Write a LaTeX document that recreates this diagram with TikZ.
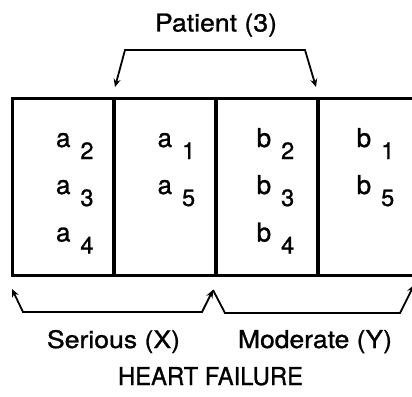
\documentclass[tikz,border=0pt]{standalone}
\usepackage{fontspec}
\usepackage{graphicx}
\setmainfont{TeX Gyre Heros}[FakeBold=1]
\usetikzlibrary{arrows.meta}
\newcommand{\ent}[2]{{\fontsize{26}{30}\selectfont #1}\hspace{10pt}\raisebox{-12pt}{\fontsize{23.5}{28}\selectfont #2}}
\newcommand{\lab}[2]{\resizebox{#1}{18pt}{#2}}
\tikzset{
  boxline/.style={line width=3pt, line cap=rect},
  divline/.style={line width=3.6pt},
  brk/.style={line width=1.8pt, line join=miter},
  tip/.style={-{Stealth[length=8pt,width=7pt]}},
  lbl/.style={inner sep=0pt, anchor=base},
  cell/.style={inner sep=0pt, anchor=base west},
}
\begin{document}
\begin{tikzpicture}[x=1pt,y=-1pt]
\useasboundingbox (0,0) rectangle (412,396);
% boxes
\coordinate (tl) at (12,98);
\coordinate (bl) at (12,275);
\coordinate (tr) at (420,98);
\coordinate (br) at (420,275);
\draw[boxline] (tr) -- (tl) -- (bl) -- (br);
\foreach \x/\n in {114/d1,216/d2,318/d3}{
  \coordinate (\n t) at (\x,98);
  \coordinate (\n b) at (\x,275);
  \draw[divline] (\n t) -- (\n b);
}
% cells
\node[cell] (a2) at (55.8,147) {\ent{a}{2}};
\node[cell] (a3) at (55.8,194) {\ent{a}{3}};
\node[cell] (a4) at (55.8,241.5) {\ent{a}{4}};
\node[cell] (a1) at (157.4,147) {\ent{a}{1}};
\node[cell] (a5) at (157.4,194) {\ent{a}{5}};
\node[cell] (b2) at (256.5,147) {\ent{b}{2}};
\node[cell] (b3) at (256.5,194) {\ent{b}{3}};
\node[cell] (b4) at (256.5,241.5) {\ent{b}{4}};
\node[cell] (b1) at (356.5,147) {\ent{b}{1}};
\node[cell] (b5) at (356.5,194) {\ent{b}{5}};
% top bracket
\node[lbl] (patient) at (216,31.5) {\lab{122pt}{Patient (3)}};
\coordinate (p1) at (115,87);
\coordinate (p2) at (125,50);
\coordinate (p3) at (305,50);
\coordinate (p4) at (316,87);
\draw[brk,{Stealth[length=8pt,width=7pt]}-{Stealth[length=8pt,width=7pt]}] (p1) -- (p2) -- (p3) -- (p4);
% bottom bracket
\coordinate (q1) at (12,289);
\coordinate (q2) at (23,312);
\coordinate (q3) at (202,312);
\coordinate (q4) at (213,290);
\coordinate (q5) at (225,313);
\coordinate (q6) at (400,313);
\coordinate (q7) at (414,285);
\draw[brk,{Stealth[length=8pt,width=7pt]}-{Stealth[length=8pt,width=7pt]}] (q1) -- (q2) -- (q3) -- (q4);
\draw[brk,tip] (q4) -- (q5) -- (q6) -- (q7);
\node[lbl] (serious) at (113.5,348) {\lab{133pt}{Serious (X)}};
\node[lbl] (moderate) at (315,348) {\lab{154pt}{Moderate (Y)}};
\node[lbl] (hf) at (210.5,385) {\lab{185pt}{HEART FAILURE}};
\end{tikzpicture}
\end{document}
